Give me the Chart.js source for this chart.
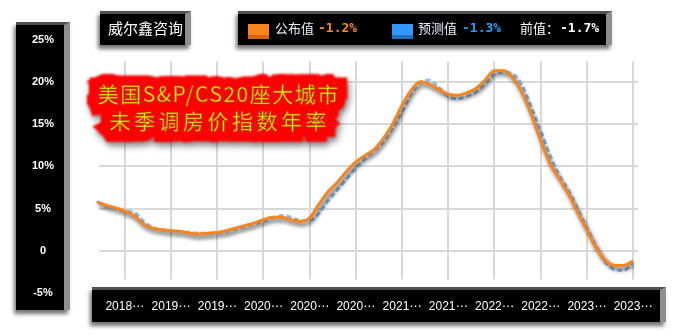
<!DOCTYPE html>
<html><head><meta charset="utf-8">
<script src="https://cdn.jsdelivr.net/npm/chart.js@4/dist/chart.umd.min.js"></script>
<style>
html,body{margin:0;padding:0;background:#fff;}
#wrap{position:relative;width:673px;height:335px;overflow:hidden;background:#fff;}
.box{position:absolute;background:#000;box-sizing:border-box;border-top:3px solid #505050;border-right:6px solid #8e8e8e;box-shadow:-2px 4px 4px rgba(0,0,0,0.55);z-index:1;}
#c{position:absolute;left:0;top:0;z-index:2;}
.t{position:absolute;white-space:nowrap;z-index:3;line-height:16px;}
.cjk{font-family:"Noto Sans CJK SC",sans-serif;font-size:13px;color:#e4ecfb;}
.num{font-family:"DejaVu Sans Mono",monospace;font-weight:bold;font-size:13px;}
.sw{position:absolute;z-index:3;width:21px;height:15px;}
.ttl{position:absolute;left:66px;top:80px;width:304px;text-align:center;font-family:"Noto Sans CJK SC",sans-serif;font-size:21px;line-height:27px;white-space:nowrap;z-index:3;}
.ttl div:nth-child(1){letter-spacing:1.5px;padding-left:1.5px;}
.ttl div:nth-child(2){letter-spacing:3.5px;padding-left:3.5px;}
#back{color:#ff0000;-webkit-text-stroke:20px #ff0000;filter:blur(1.2px) drop-shadow(2px 4px 3px rgba(0,0,0,0.5));}
#front{color:#fff000;-webkit-text-stroke:0.5px #8a5a00;}
</style>
</head><body>
<div id="wrap">
  <div class="box" style="left:16px;top:22px;width:54px;height:288px;"></div>
  <div class="box" style="left:92px;top:287px;width:574px;height:35px;"></div>
  <div class="box" style="left:100px;top:11px;width:91px;height:34px;"></div>
  <div class="t" style="left:108px;top:19px;font-family:'Noto Sans CJK SC',sans-serif;font-size:15px;line-height:18px;color:#fff;">威尔鑫咨询</div>
  <div class="box" style="left:238px;top:11px;width:374px;height:34px;"></div>
  <div class="sw" style="left:248px;top:24px;background:linear-gradient(#f7861f 0,#f7861f 72%,#d9660c 72%,#d9660c 100%);"></div>
  <div class="t cjk" style="left:275px;top:20px;">公布值</div>
  <div class="t num" id="v1" style="left:318px;top:20px;color:#ff8a1c;"></div>
  <div class="sw" style="left:392px;top:24px;background:linear-gradient(#3399ff 0,#3399ff 72%,#1b73c9 72%,#1b73c9 100%);"></div>
  <div class="t cjk" style="left:418px;top:20px;">预测值</div>
  <div class="t num" id="v2" style="left:462px;top:20px;color:#1ea2ff;"></div>
  <div class="t cjk" style="left:520px;top:20px;color:#fff;">前值：</div>
  <div class="t num" id="v3" style="left:560px;top:20px;color:#fff;"></div>
  <canvas id="c" width="673" height="335"></canvas>
  <div class="ttl" id="back"><div>美国S&amp;P/CS20座大城市</div><div>未季调房价指数年率</div></div>
  <div class="ttl" id="front"><div>美国S&amp;P/CS20座大城市</div><div>未季调房价指数年率</div></div>
</div>
<script>
// ---- data ----
const months = [
 "2018-08","2018-09","2018-10","2018-11","2018-12",
 "2019-01","2019-02","2019-03","2019-04","2019-05","2019-06","2019-07","2019-08","2019-09","2019-10","2019-11","2019-12",
 "2020-01","2020-02","2020-03","2020-04","2020-05","2020-06","2020-07","2020-08","2020-09","2020-10","2020-11","2020-12",
 "2021-01","2021-02","2021-03","2021-04","2021-05","2021-06","2021-07","2021-08","2021-09","2021-10","2021-11","2021-12",
 "2022-01","2022-02","2022-03","2022-04","2022-05","2022-06","2022-07","2022-08","2022-09","2022-10","2022-11","2022-12",
 "2023-01","2023-02","2023-03","2023-04","2023-05","2023-06"
];
const actual = [
 5.8,5.4,5.1,4.7,4.2,
 3.2,2.7,2.5,2.4,2.3,2.1,2.0,2.1,2.2,2.4,2.7,3.0,
 3.3,3.7,4.0,4.0,3.7,3.5,3.9,5.5,7.0,8.1,9.4,10.5,
 11.3,12.0,13.3,15.0,17.2,19.0,20.0,19.7,19.1,18.5,18.4,18.7,
 19.2,20.2,21.3,21.3,20.5,18.7,16.1,13.1,10.4,8.6,6.8,4.6,
 2.5,0.4,-1.1,-1.7,-1.7,-1.2
];
const forecast = [
 5.8,5.3,5.0,4.7,4.6,
 3.5,2.8,2.5,2.4,2.3,2.2,2.1,2.1,2.1,2.3,2.6,2.9,
 3.2,3.5,3.9,4.2,4.0,3.6,3.6,4.4,5.9,7.2,8.5,9.8,
 10.9,11.9,12.9,14.6,16.4,18.6,19.9,20.2,19.3,18.3,18.0,18.3,
 18.8,19.8,20.9,21.1,20.9,19.6,17.0,14.3,11.4,9.0,7.2,5.0,
 2.8,0.6,-1.3,-2.2,-2.3,-1.3
];
const yTicks = [-5,0,5,10,15,20,25];
const gridValues = [0,5,10,15,20];
const labelEvery = 5, labelOffset = 3;

// legend values from the series
const fmt = v => v.toFixed(1) + '%';
document.getElementById('v1').textContent = fmt(actual[actual.length-1]);
document.getElementById('v2').textContent = fmt(forecast[forecast.length-1]);
document.getElementById('v3').textContent = fmt(actual[actual.length-2]);

const gridPlugin = {
  id:'customGrid',
  beforeDatasetsDraw(chart){
    const {ctx, chartArea:a, scales:{x,y}} = chart;
    ctx.save();
    ctx.strokeStyle = '#d8d8d8';
    ctx.lineWidth = 2;
    const yTop = y.getPixelForValue(22.4), yBot = y.getPixelForValue(-3.4);
    gridValues.forEach(v => {
      const py = Math.round(y.getPixelForValue(v));
      ctx.beginPath(); ctx.moveTo(a.left + 2, py); ctx.lineTo(a.right + 5, py); ctx.stroke();
    });
    months.forEach((m,i) => {
      if (i % labelEvery === labelOffset) {
        const px = Math.round(x.getPixelForValue(i));
        ctx.beginPath(); ctx.moveTo(px, yTop); ctx.lineTo(px, yBot); ctx.stroke();
      }
    });
    ctx.restore();
  }
};
const shadowPlugin = {
  id:'lineShadow',
  beforeDatasetDraw(chart, args){
    if (args.index === 0){
      const c = chart.ctx; c.save();
      c.shadowColor = 'rgba(0,0,0,0.7)'; c.shadowBlur = 4; c.shadowOffsetX = 2; c.shadowOffsetY = 3;
    }
  },
  afterDatasetDraw(chart, args){ if (args.index === 0) chart.ctx.restore(); }
};

new Chart(document.getElementById('c'), {
  type:'line',
  data:{
    labels: months,
    datasets:[
      {label:'公布值', data: actual, borderColor:'#f7841c', borderWidth:3, pointRadius:0, tension:0.4, cubicInterpolationMode:'monotone', fill:false},
      {label:'预测值', data: forecast, borderColor:'#8fc2f2', borderWidth:3, borderDash:[5,3], pointRadius:0, tension:0.4, cubicInterpolationMode:'monotone', fill:false}
    ]
  },
  options:{
    responsive:false, devicePixelRatio:1, animation:false,
    layout:{padding:{left:0, top:39.5, right:40, bottom:0}},
    plugins:{legend:{display:false}, tooltip:{enabled:false}},
    scales:{
      x:{
        afterFit(s){ s.height = 41.7; },
        grid:{display:false, drawTicks:false}, border:{display:false},
        ticks:{autoSkip:false, maxRotation:0, minRotation:0, padding:6, color:'#fff',
          font:{family:"'Liberation Sans','DejaVu Sans'", size:12},
          callback:(v,i) => i % labelEvery === labelOffset ? months[i].slice(0,4) + '⋯' : ''}
      },
      y:{
        min:yTicks[0], max:yTicks[yTicks.length-1],
        afterFit(s){ s.width = 97; s.paddingTop = 0; s.paddingBottom = 0; },
        afterBuildTicks(s){ s.ticks = yTicks.map(v => ({value:v})); },
        grid:{display:false, drawTicks:false}, border:{display:false},
        ticks:{color:'#fff', crossAlign:'center', padding:43,
          font:{family:"'Liberation Sans'", size:11, weight:'bold'},
          callback:v => v === 0 ? '0' : v + '%'}
      }
    }
  },
  plugins:[gridPlugin, shadowPlugin]
});
</script>
</body></html>
